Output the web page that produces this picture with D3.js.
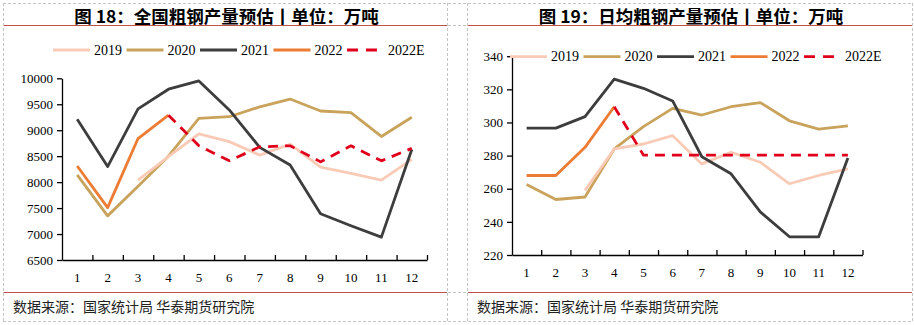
<!DOCTYPE html>
<html>
<head>
<meta charset="utf-8">
<script src="https://cdn.jsdelivr.net/npm/d3@7"></script>
<style>
  body { margin: 0; background: #fff; }
  svg { display: block; }
</style>
</head>
<body>
<svg id="chart" width="914" height="325"></svg>
<script>
var months = ['1','2','3','4','5','6','7','8','9','10','11','12'];
var seriesNames = ['2019', '2020', '2021', '2022', '2022E'];

// 全国粗钢产量 (万吨)
var total2019 = [null, null, 8040, 8490, 8930, 8780, 8520, 8730, 8290, 8170, 8040, 8440];
var total2020 = [8140, 7350, 7920, 8500, 9230, 9260, 9450, 9600, 9370, 9340, 8880, 9250];
var total2021 = [9210, 8300, 9410, 9790, 9950, 9390, 8670, 8330, 7390, 7160, 6940, 8630];
var total2022 = [8310, 7510, 8840, 9290, null, null, null, null, null, null, null, null];
var total2022E = [null, null, null, 9290, 8700, 8410, 8680, 8700, 8390, 8700, 8410, 8650];
var totalTicks = [6500, 7000, 7500, 8000, 8500, 9000, 9500, 10000];

// 日均粗钢产量 (万吨)
var daily2019 = [null, null, 259, 284, 287, 292, 275, 282, 276, 263, 268, 272];
var daily2020 = [262.5, 253.5, 255, 284, 297.5, 308.5, 304.5, 309.5, 312, 301, 296, 298];
var daily2021 = [296.6, 296.6, 303.5, 326.2, 320.6, 313, 279.3, 269, 246, 231, 231, 278.5];
var daily2022 = [268, 268, 285, 309.5, null, null, null, null, null, null, null, null];
var daily2022E = [null, null, null, 309.5, 280.3, 280.3, 280.3, 280.3, 280.3, 280.3, 280.3, 280.3];
var dailyTicks = [220, 240, 260, 280, 300, 320, 340];

var titles = ['图 18：全国粗钢产量预估丨单位：万吨', '图 19：日均粗钢产量预估丨单位：万吨'];
var sourceText = '数据来源：国家统计局 华泰期货研究院';

var colors = {'2019': '#f9cbb6', '2020': '#c9a35c', '2021': '#3d3d3d', '2022': '#ec7c33', '2022E': '#e0001b'};

var svg = d3.select('#chart');
var serif = '"Liberation Serif", "Times New Roman", serif';
var cjk = '"Noto Sans CJK SC", sans-serif';

// table grid (dashed borders)
var gridX = [3, 447, 467, 912], gridY = [3, 25, 292, 321];
var grid = svg.append('g').attr('stroke', '#c4c4c4').attr('stroke-dasharray', '3,2').attr('stroke-width', 1);
gridY.forEach(function(y) {
  grid.append('line').attr('x1', 3).attr('x2', 912).attr('y1', y + 0.5).attr('y2', y + 0.5);
});
gridX.forEach(function(x) {
  grid.append('line').attr('x1', x + 0.5).attr('x2', x + 0.5).attr('y1', 3).attr('y2', 321);
});

function drawPanel(cfg) {
  var g = svg.append('g');

  // red rules
  [25, 292].forEach(function(y) {
    g.append('line').attr('x1', cfg.left).attr('x2', cfg.right)
      .attr('y1', y + 0.5).attr('y2', y + 0.5)
      .attr('stroke', '#c0504d').attr('stroke-width', 1.2);
  });

  g.append('text').attr('x', (cfg.left + cfg.right) / 2 + 1).attr('y', 15)
    .attr('text-anchor', 'middle').attr('dominant-baseline', 'central')
    .attr('font-family', cjk).attr('font-weight', 'bold').attr('font-size', 17.5)
    .text(cfg.title);

  g.append('text').attr('x', cfg.left + 9).attr('y', 306)
    .attr('dominant-baseline', 'central')
    .attr('font-family', cjk).attr('font-size', 14).attr('fill', '#222')
    .text(sourceText);

  var x = d3.scaleBand().domain(months).range([cfg.x0, cfg.x1]).padding(0);
  var xEdge = d3.scaleLinear().domain([0, 12]).range([cfg.x0, cfg.x1]);
  var y = d3.scaleLinear().domain(cfg.domain).range([cfg.y0, cfg.y1]);

  var line = d3.line()
    .defined(function(d) { return d != null; })
    .x(function(d, i) { return x(months[i]) + x.bandwidth() / 2; })
    .y(function(d) { return y(d); });

  var order = ['2020', '2019', '2021', '2022', '2022E'];
  order.forEach(function(name) {
    g.append('path')
      .datum(cfg.data[name])
      .attr('fill', 'none')
      .attr('stroke', colors[name])
      .attr('stroke-width', 2.8)
      .attr('stroke-linejoin', 'round')
      .attr('stroke-dasharray', name === '2022E' ? '10,7' : null)
      .attr('d', line);
  });

  // y axis
  var yAxis = g.append('g')
    .attr('transform', 'translate(' + cfg.x0 + ',0)')
    .call(d3.axisLeft(y).tickValues(cfg.ticks).tickFormat(d3.format('d'))
      .tickSize(5).tickSizeOuter(0).tickPadding(4));
  yAxis.selectAll('text').attr('font-family', serif).attr('font-size', 13).attr('fill', '#000');
  yAxis.selectAll('line, path').attr('stroke', '#000').attr('stroke-width', 1.3);

  // x axis: labels centred in bands, ticks at band edges pointing up
  var xAxis = g.append('g')
    .attr('transform', 'translate(0,' + cfg.y0 + ')')
    .call(d3.axisBottom(x).tickSize(0).tickPadding(13));
  xAxis.select('.domain').remove();
  xAxis.selectAll('text').attr('font-family', serif).attr('font-size', 13).attr('fill', '#000');

  var xTicks = g.append('g')
    .attr('transform', 'translate(0,' + cfg.y0 + ')')
    .call(d3.axisBottom(xEdge).tickValues(d3.range(1, 13)).tickSize(-5).tickSizeOuter(0).tickFormat(''));
  xTicks.selectAll('line, path').attr('stroke', '#000').attr('stroke-width', 1.3);

  // legend
  var lx = cfg.legendX;
  seriesNames.forEach(function(name) {
    var item = g.append('g');
    item.append('line')
      .attr('x1', lx).attr('x2', lx + 37)
      .attr('y1', cfg.legendY).attr('y2', cfg.legendY)
      .attr('stroke', colors[name]).attr('stroke-width', 2.8)
      .attr('stroke-dasharray', name === '2022E' ? '11,8' : null);
    var t = item.append('text')
      .attr('x', lx + 41).attr('y', cfg.legendY)
      .attr('dominant-baseline', 'central')
      .attr('font-family', serif).attr('font-size', 14).attr('fill', '#000')
      .text(name);
    lx += 41 + t.node().getComputedTextLength() + 4.5;
  });
}

drawPanel({
  left: 4, right: 447, title: titles[0],
  x0: 62, x1: 427, y0: 260, y1: 78.3,
  domain: [6500, 10000], ticks: totalTicks,
  legendX: 53, legendY: 50,
  data: {'2019': total2019, '2020': total2020, '2021': total2021, '2022': total2022, '2022E': total2022E}
});

drawPanel({
  left: 468, right: 912, title: titles[1],
  x0: 512, x1: 862.5, y0: 255, y1: 56.2,
  domain: [220, 340], ticks: dailyTicks,
  legendX: 510, legendY: 56.7,
  data: {'2019': daily2019, '2020': daily2020, '2021': daily2021, '2022': daily2022, '2022E': daily2022E}
});
</script>
</body>
</html>
